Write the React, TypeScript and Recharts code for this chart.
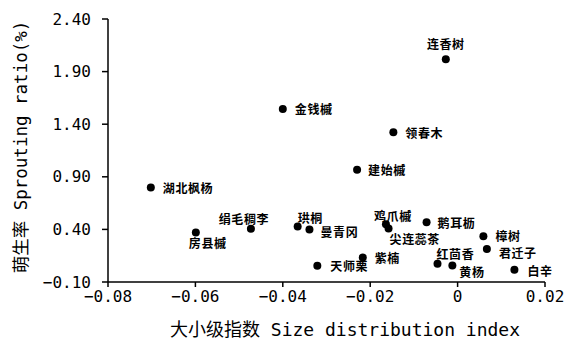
import React from 'react';
import { ScatterChart, Scatter, XAxis, YAxis, Label } from 'recharts';

const speciesNames = ['连香树', '金钱槭', '领春木', '建始槭', '湖北枫杨', '房县槭', '绢毛稠李', '珙桐', '曼青冈', '天师栗', '鸡爪槭', '尖连蕊茶', '鹅耳枥', '紫楠', '红茴香', '黄杨', '樟树', '君迁子', '白辛'];
const sizeIndex = [-0.0027, -0.0400, -0.0147, -0.0230, -0.0702, -0.0599, -0.0473, -0.0366, -0.0339, -0.0321, -0.0164, -0.0158, -0.0071, -0.0217, -0.0046, -0.0012, 0.0059, 0.0067, 0.0130];
const sproutRatio = [2.017, 1.545, 1.324, 0.966, 0.798, 0.371, 0.406, 0.428, 0.399, 0.054, 0.450, 0.409, 0.469, 0.133, 0.073, 0.057, 0.336, 0.213, 0.016];

const xTicks = [-0.08, -0.06, -0.04, -0.02, 0, 0.02];
const yTicks = [-0.1, 0.4, 0.9, 1.4, 1.9, 2.4];

// label placement (style only): anchor, dx, dy relative to point
const labelPlacement: Record<string, [string, number, number]> = {
  '连香树': ['middle', 0, -16],
  '金钱槭': ['start', 12, 0],
  '领春木': ['start', 12, 0],
  '建始槭': ['start', 11, 0],
  '湖北枫杨': ['start', 12, 0],
  '房县槭': ['start', -7, 10],
  '绢毛稠李': ['middle', -7, -10],
  '珙桐': ['start', 0, -9],
  '曼青冈': ['start', 11, 2],
  '天师栗': ['start', 13, 0],
  '鸡爪槭': ['middle', 7, -9],
  '尖连蕊茶': ['start', 1, 10],
  '鹅耳枥': ['start', 11, 0],
  '紫楠': ['start', 12, 0],
  '红茴香': ['start', -1, -10],
  '黄杨': ['start', 7, 6],
  '樟树': ['start', 12, -1],
  '君迁子': ['start', 12, 3],
  '白辛': ['start', 13, 1],
};

const data = speciesNames.map((name, i) => ({ name, x: sizeIndex[i], y: sproutRatio[i] }));

const MONO = '"DejaVu Sans Mono", "Noto Sans CJK SC", monospace';
const CJK = '"Noto Sans CJK SC", sans-serif';

const fmt = (v: number, d: number) => {
  if (v === 0) return '0';
  const s = Math.abs(v).toFixed(d);
  return v < 0 ? '\u2212' + s : s;
};

const PointShape = (props: any) => {
  const { cx, cy, payload } = props;
  const p = labelPlacement[payload.name] || ['start', 12, 0];
  return (
    <g>
      <circle cx={cx} cy={cy} r={4} fill="#000" />
      <text
        x={cx + p[1]}
        y={cy + p[2]}
        textAnchor={p[0] as any}
        dominantBaseline="central"
        fontFamily={CJK}
        fontSize={12}
        fontWeight="bold"
        letterSpacing={0.6}
        fill="#000"
      >
        {payload.name}
      </text>
    </g>
  );
};

export default function App() {
  return (
    <div style={{ position: 'absolute', left: 0, top: 0, background: '#fff' }}>
      <ScatterChart width={569} height={341} margin={{ top: 19, right: 24, bottom: 29, left: 48 }}>
        <XAxis
          type="number"
          dataKey="x"
          domain={[-0.08, 0.02]}
          ticks={xTicks}
          tickFormatter={(v: number) => fmt(v, 2)}
          axisLine={{ stroke: '#000', strokeWidth: 1.5 }}
          tickLine={{ stroke: '#000', strokeWidth: 1.5 }}
          tickSize={5}
          tickMargin={4}
          tick={{ fill: '#000', fontFamily: MONO, fontSize: 16 }}
          height={30}
        >
          <Label
            content={() => (
              <text x={345} y={329} textAnchor="middle" dominantBaseline="central" fontFamily={MONO} fontSize={18} fill="#000">
                大小级指数 Size distribution index
              </text>
            )}
          />
        </XAxis>
        <YAxis
          type="number"
          dataKey="y"
          domain={[-0.1, 2.4]}
          ticks={yTicks}
          tickFormatter={(v: number) => fmt(v, 2)}
          axisLine={{ stroke: '#000', strokeWidth: 1.5 }}
          tickLine={{ stroke: '#000', strokeWidth: 1.5 }}
          tickSize={6}
          tickMargin={11}
          tick={{ fill: '#000', fontFamily: MONO, fontSize: 16 }}
          width={60}
        >
          <Label
            content={() => (
              <text x={21} y={147} textAnchor="middle" dominantBaseline="central" transform="rotate(-90 21 147)" fontFamily={MONO} fontSize={17.5} fill="#000">
                萌生率 Sprouting ratio(%)
              </text>
            )}
          />
        </YAxis>
        <Scatter data={data} shape={PointShape} isAnimationActive={false} />
      </ScatterChart>
    </div>
  );
}
